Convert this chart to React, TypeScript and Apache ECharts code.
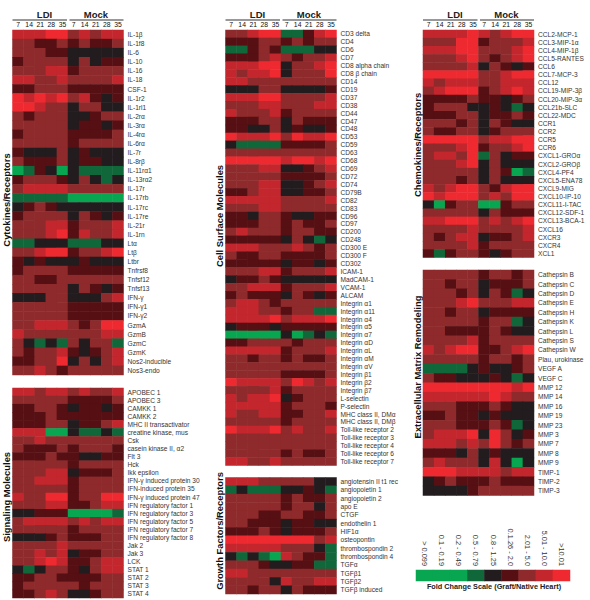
import React, { useEffect, useRef } from "react";
import * as echarts from "echarts";

const days = ["7", "14", "21", "28", "35", "7", "14", "21", "28", "35"];
// Level: index of the fold change bin in the legend, 0 (lowest) to 8 (highest)
const scaleLabels = ["> 0.099", "0.1 - 0.19", "0.2 - 0.49", "0.5 - 0.79", "0.8 - 1.25", "0.1.26 - 2.0", "2.01 - 5.0", "5.01 - 10.0", ">10.01"];
const scaleLevels = [0, 1, 2, 3, 4, 5, 6, 7, 8];
const scaleColors = ["#08a650", "#08a650", "#08a650", "#10683a", "#231c1f", "#560f13", "#8e2a2b", "#c3262d", "#ee2a30"];

const cytokineLabels = ["IL-1β", "IL-1f8", "IL-6", "IL-10", "IL-16", "IL-18", "CSF-1", "IL-1r2", "IL-1rl1", "IL-2rα", "IL-3rα", "IL-4rα", "IL-6rα", "IL-7r", "IL-8rβ", "IL-11rα1", "IL-13rα2", "IL-17r", "IL-17rb", "IL-17rc", "IL-17re", "IL-21r", "IL-1rn", "Ltα", "Ltβ", "Ltbr", "Tnfrsf8", "Tnfsf12", "Tnfsf13", "IFN-γ", "IFN-γ1", "IFN-γ2", "GzmA", "GzmB", "GzmC", "GzmK", "Nos2-inducible", "Nos3-endo"];
const cytokineValues = [
  [7,7,7,8,8,6,7,6,7,7],[6,6,5,5,6,5,6,5,5,6],[6,6,6,5,5,4,4,4,4,4],[5,6,6,6,6,4,6,4,5,5],[6,6,6,7,7,5,6,6,6,6],
  [7,7,6,6,7,6,6,6,6,7],[5,5,6,6,6,5,5,5,5,5],[8,7,8,7,8,6,7,5,4,5],[8,8,7,6,6,4,6,6,4,4],[6,5,6,6,6,4,4,5,6,6],
  [6,6,6,6,6,4,5,5,4,5],[5,6,6,6,6,5,5,5,5,6],[6,6,6,6,6,5,6,6,6,6],[5,4,4,4,6,4,5,4,4,4],[6,5,5,5,6,4,5,5,4,4],
  [0,3,5,4,0,4,3,3,3,3],[5,6,6,6,5,4,6,4,3,4],[6,7,7,7,7,6,6,6,6,6],[3,3,3,3,3,0,0,0,0,0],[4,5,6,5,4,4,4,4,4,4],
  [5,6,6,6,6,4,6,5,4,5],[6,6,6,7,7,5,6,6,6,7],[6,6,6,7,8,5,7,6,6,7],[3,3,4,4,4,3,3,3,4,4],[6,6,7,8,8,5,6,6,7,8],
  [5,4,5,4,4,4,5,4,4,4],[5,6,6,6,6,5,5,5,5,5],[6,6,5,5,6,6,6,6,6,6],[6,6,6,6,6,4,6,5,4,5],[4,4,4,6,6,4,4,4,6,7],
  [6,6,6,6,6,5,5,5,5,5],[6,6,6,6,6,5,5,5,5,5],[6,6,7,7,7,6,5,6,8,8],[7,6,6,6,6,6,6,6,7,7],[6,4,3,4,3,6,4,6,6,3],
  [6,5,6,6,7,5,4,5,6,7],[5,5,6,6,8,4,6,4,6,7],[6,6,7,6,5,6,6,6,6,6],
];

const signalingLabels = ["APOBEC 1", "APOBEC 3", "CAMKK 1", "CAMKK 2", "MHC II transactivator", "creatine kinase, mus", "Csk", "casein kinase II, α2", "Flt 3", "Hck", "Ikk epsilon", "IFN-γ induced protein 30", "IFN-induced protein 35", "IFN-γ induced protein 47", "IFN regulatory factor 1", "IFN regulatory factor 3", "IFN regulatory factor 5", "IFN regulatory factor 7", "IFN regulatory factor 8", "Jak 2", "Jak 3", "LCK", "STAT 1", "STAT 2", "STAT 3", "STAT 4"];
const signalingValues = [
  [7,7,6,7,7,6,7,6,6,7],[6,6,6,6,6,5,5,5,5,6],[5,5,6,6,5,4,5,5,4,5],[5,5,5,6,5,5,5,5,5,5],[5,5,5,6,6,4,5,5,6,7],
  [7,7,7,0,0,4,3,3,4,3],[6,6,7,6,6,6,6,6,6,6],[6,5,5,5,6,5,6,6,6,5],[5,5,5,6,5,5,4,4,5,5],[6,6,6,6,6,5,6,6,6,6],
  [6,6,6,7,7,4,5,5,5,6],[6,6,7,7,7,5,6,6,6,6],[6,6,6,6,6,5,6,6,6,6],[7,6,6,8,8,5,6,6,8,8],[6,6,6,7,7,5,5,6,7,7],
  [4,4,5,5,5,0,0,0,0,3],[6,7,7,7,7,6,7,6,7,7],[6,6,6,6,6,5,6,6,6,6],[4,4,4,5,6,5,5,5,6,6],[6,6,6,6,7,6,6,6,6,6],
  [6,6,7,6,7,4,5,5,6,6],[6,6,7,8,7,5,5,6,7,7],[4,3,4,6,6,5,4,6,7,7],[5,5,6,6,5,5,5,5,6,6],[5,6,6,6,6,6,5,6,6,6],
  [5,5,6,7,6,4,4,5,6,6],
];

const surfaceLabels = ["CD3 delta", "CD4", "CD6", "CD7", "CD8 alpha chain", "CD8 β chain", "CD14", "CD19", "CD37", "CD38", "CD44", "CD47", "CD48", "CD53", "CD59", "CD63", "CD68", "CD69", "CD72", "CD74", "CD79B", "CD82", "CD83", "CD96", "CD97", "CD200", "CD248", "CD300 E", "CD300 F", "CD302", "ICAM-1", "MadCAM-1", "VCAM-1", "ALCAM", "Integrin α1", "Integrin α11", "Integrin α4", "Integrin α5", "Integrin α7", "Integrin αD", "Integrin αL", "Integrin αM", "Integrin αV", "Integrin β1", "Integrin β2", "Integrin β7", "L-selectin", "P-selectin", "MHC class II, DMα", "MHC class II, DMβ", "Toll-like receptor 2", "Toll-like receptor 3", "Toll-like receptor 4", "Toll-like receptor 6", "Toll-like receptor 7"];
const surfaceValues = [
  [6,6,7,8,8,3,3,5,7,8],[5,5,5,6,6,5,6,5,6,6],[3,3,5,6,5,3,3,3,4,4],[5,5,5,6,7,6,5,6,6,7],[7,7,7,8,8,4,6,6,7,8],
  [7,6,7,7,8,4,6,6,6,8],[7,7,6,6,6,6,6,6,6,6],[4,4,4,6,6,4,4,4,4,5],[7,7,7,8,8,6,6,6,6,7],[6,6,6,7,7,6,6,6,7,7],
  [7,6,6,6,7,5,6,6,6,6],[5,5,5,6,6,4,6,5,5,5],[5,5,4,4,6,4,5,4,4,5],[8,7,7,7,8,6,8,7,7,8],[4,3,3,3,3,5,5,5,5,6],
  [6,6,6,6,6,6,6,6,6,6],[8,8,8,8,8,7,8,8,7,8],[6,6,6,7,7,4,4,5,6,7],[6,6,6,6,6,5,5,5,5,6],[6,6,6,7,7,4,4,5,6,7],
  [5,5,6,7,7,4,4,5,5,6],[7,7,7,7,7,6,6,6,6,7],[6,6,6,7,7,6,6,6,6,6],[5,5,4,6,6,5,4,4,5,5],[5,5,5,6,6,5,6,5,5,6],
  [6,7,6,6,6,5,6,6,5,5],[5,5,5,5,5,4,6,4,3,4],[7,7,7,6,6,6,7,6,5,6],[6,5,5,6,6,5,5,5,5,6],[5,5,5,5,5,4,5,5,4,5],
  [6,6,6,7,7,5,6,6,6,7],[4,5,5,6,5,4,4,4,4,4],[6,6,7,7,7,5,6,6,6,7],[5,6,5,5,5,4,6,5,4,5],[6,7,7,6,5,6,6,6,6,6],
  [7,7,7,6,6,5,6,6,3,3],[7,7,7,7,8,6,7,7,7,8],[4,5,5,5,4,5,5,5,5,5],[0,0,0,0,0,4,0,3,4,3],[5,5,6,6,6,6,5,6,6,6],
  [7,7,7,7,7,5,6,6,6,7],[6,6,5,6,6,5,6,5,5,6],[6,6,6,6,6,6,6,6,6,6],[6,6,6,6,6,5,5,5,5,6],[8,7,7,7,7,6,8,7,6,7],
  [6,6,6,6,7,5,6,6,6,6],[7,6,7,7,8,4,5,6,6,6],[7,7,7,7,7,5,6,6,6,5],[7,6,6,7,7,5,5,6,6,7],[6,6,6,6,6,5,6,6,6,6],
  [8,7,7,7,8,6,7,6,6,7],[6,6,6,6,6,6,6,6,6,6],[6,6,6,6,6,6,6,6,6,6],[6,6,6,6,6,5,6,5,5,6],[7,7,6,6,7,6,6,6,6,6],
];

const growthLabels = ["angiotensin II t1 rec", "angiopoietin 1", "angiopoietin 2", "apo E", "CTGF", "endothelin 1", "HIF1α", "osteopontin", "thrombospondin 2", "thrombospondin 4", "TGFα", "TGFβ1", "TGFβ2", "TGFβ induced"];
const growthValues = [
  [7,7,7,6,6,6,6,6,4,4],[3,4,3,3,3,4,4,5,4,3],[6,6,6,6,6,5,6,5,5,6],[6,6,6,6,6,5,6,6,4,6],[6,6,6,5,5,6,6,5,5,6],
  [6,6,5,5,5,4,5,5,4,4],[5,5,5,6,5,4,5,5,5,6],[8,8,8,8,8,8,8,8,6,7],[7,7,7,7,7,6,6,6,4,3],[4,3,4,3,0,7,6,5,5,3],
  [6,6,6,5,4,4,5,5,3,3],[7,7,6,6,6,6,6,6,6,6],[6,6,6,6,4,7,6,6,7,7],[6,6,5,6,6,4,6,5,5,5],
];

const chemokineLabels = ["CCL2-MCP-1", "CCL3-MIP-1α", "CCL4-MIP-1β", "CCL5-RANTES", "CCL6", "CCL7-MCP-3", "CCL12", "CCL19-MIP-3β", "CCL20-MIP-3α", "CCL21b-SLC", "CCL22-MDC", "CCR1", "CCR2", "CCR5", "CCR6", "CXCL1-GROα", "CXCL2-GROβ", "CXCL4-PF4", "CXCL5-ENA78", "CXCL9-MIG", "CXCL10-IP-10", "CXCL11-I-TAC", "CXCL12-SDF-1", "CXCL13-BCA-1", "CXCL16", "CXCR3", "CXCR4", "XCL1"];
const chemokineValues = [
  [7,7,7,7,8,7,6,7,8,8],[6,6,6,8,8,5,6,6,6,7],[7,7,7,8,8,6,6,6,7,8],[6,6,6,7,8,6,5,6,7,8],[6,6,6,6,7,4,6,5,4,5],
  [8,8,8,8,8,6,6,7,8,8],[7,6,7,7,7,6,6,7,7,7],[6,7,8,8,8,5,6,7,8,7],[5,5,5,5,6,5,5,4,5,6],[5,6,6,6,4,4,5,4,3,4],
  [5,5,5,6,6,4,5,5,6,5],[6,6,6,5,6,4,6,5,4,4],[6,5,5,6,6,4,5,6,6,6],[8,8,8,8,8,6,7,7,8,8],[6,6,6,7,8,5,6,6,7,8],
  [6,7,7,6,8,3,6,4,5,5],[6,6,6,7,8,4,6,4,4,4],[6,6,6,6,6,4,6,5,0,3],[6,6,6,5,6,4,6,4,4,4],[7,6,7,8,8,6,5,7,8,8],
  [8,7,8,8,8,6,7,6,8,8],[4,0,5,6,6,0,0,5,6,6],[6,6,6,6,6,4,6,5,5,5],[7,7,8,8,8,6,7,6,7,8],[6,6,6,6,7,6,6,6,6,7],
  [6,5,6,7,7,4,5,5,6,7],[6,6,6,6,7,5,6,6,6,6],[5,3,5,6,6,5,4,5,6,6],
];

const matrixLabels = ["Cathepsin B", "Cathepsin C", "Cathepsin D", "Cathepsin E", "Cathepsin H", "Cathepsin K", "Cathepsin L", "Cathepsin S", "Cathepsin W", "Plau, urokinase", "VEGF A", "VEGF C", "MMP 12", "MMP 14", "MMP 16", "MMP 19", "MMP 23", "MMP 3", "MMP 7", "MMP 8", "MMP 9", "TIMP-1", "TIMP-2", "TIMP-3"];
const matrixValues = [
  [6,6,6,6,6,5,6,6,5,6],[6,6,5,6,6,4,5,5,5,6],[6,6,6,5,6,4,6,5,3,4],[6,6,6,7,8,6,6,6,7,7],[6,6,5,6,6,4,5,5,5,5],
  [6,6,6,6,6,5,6,6,3,4],[6,6,5,5,5,5,6,5,4,4],[6,6,6,6,7,5,6,6,6,6],[7,6,7,8,8,5,5,6,7,8],[6,6,6,6,6,5,6,6,5,6],
  [3,3,3,3,4,5,4,4,5,6],[6,5,5,4,4,4,5,4,3,4],[8,8,8,8,8,8,8,8,7,8],[7,7,7,7,7,7,8,7,6,6],[6,6,6,5,5,5,6,5,4,4],
  [5,5,6,5,5,4,5,4,4,4],[6,6,6,5,5,5,6,5,3,4],[6,7,7,7,8,4,8,6,4,5],[7,7,7,6,7,6,8,6,5,6],[5,5,5,4,6,4,5,4,4,4],
  [6,7,6,6,6,4,7,4,0,4],[8,8,8,7,7,7,7,6,7,7],[4,5,6,5,5,5,6,5,5,5],[4,4,4,4,5,6,6,6,6,6],
];

const FONT = '"Liberation Sans", Arial, sans-serif';

type Panel = { labels: string[]; values: number[][]; left: number; top: number; height: number; title: string; titleX: number; titleY: number; header: boolean };

const COL_W = 111;
const panels: Panel[] = [
  { labels: cytokineLabels, values: cytokineValues, left: 12.5, top: 30, height: 345, title: "Cytokines/Receptors", titleX: 6, titleY: 200, header: true },
  { labels: signalingLabels, values: signalingValues, left: 12.5, top: 388, height: 210, title: "Signaling Molecules", titleX: 6, titleY: 497, header: false },
  { labels: surfaceLabels, values: surfaceValues, left: 225.5, top: 30, height: 435.5, title: "Cell Surface Molecules", titleX: 219, titleY: 216, header: true },
  { labels: growthLabels, values: growthValues, left: 225.5, top: 477.5, height: 116.5, title: "Growth Factors/Receptors", titleX: 219, titleY: 531, header: false },
  { labels: chemokineLabels, values: chemokineValues, left: 423, top: 30, height: 227.5, title: "Chemokines/Receptors", titleX: 417, titleY: 145, header: true },
  { labels: matrixLabels, values: matrixValues, left: 423, top: 270, height: 225.5, title: "Extracellular Matrix Remodeling", titleX: 417, titleY: 367, header: false },
];

function buildOption() {
  const grid: any[] = [];
  const xAxis: any[] = [];
  const yAxis: any[] = [];
  const series: any[] = [];
  const graphic: any[] = [];

  panels.forEach((p, i) => {
    grid.push({ left: p.left, top: p.top, width: COL_W, height: p.height, containLabel: false });
    xAxis.push({
      gridIndex: i, type: "category", position: "top", data: days,
      axisLine: { show: false }, axisTick: { show: false }, splitLine: { show: false },
      axisLabel: { show: p.header, interval: 0, fontFamily: FONT, fontSize: 6.8, color: "#111", margin: 2 },
    });
    yAxis.push({
      gridIndex: i, type: "category", position: "right", inverse: true, data: p.labels,
      axisLine: { show: false }, axisTick: { show: false }, splitLine: { show: false },
      axisLabel: { interval: 0, fontFamily: FONT, fontSize: 6.6, color: "#333", margin: 4 },
    });
    series.push({
      type: "heatmap", xAxisIndex: i, yAxisIndex: i,
      data: p.values.flatMap((row, r) => row.map((v, c) => [c, r, v])),
      itemStyle: { borderWidth: 0 }, emphasis: { disabled: true },
    });
    graphic.push({
      type: "text", x: p.titleX, y: p.titleY, rotation: Math.PI / 2,
      style: { text: p.title, align: "center", verticalAlign: "middle", font: `bold 9.4px ${FONT}`, fill: "#111" },
    });
    if (p.header) {
      const mid = p.left + COL_W / 2;
      [["LDI", p.left + 32], ["Mock", p.left + 83.5]].forEach(([t, x]) => {
        graphic.push({
          type: "text", x: x as number, y: 14,
          style: { text: t as string, align: "center", verticalAlign: "middle", font: `bold 9.5px ${FONT}`, fill: "#222" },
        });
      });
      graphic.push({ type: "line", shape: { x1: p.left, y1: 20, x2: mid - 1, y2: 20 }, style: { stroke: "#333", lineWidth: 1 } });
      graphic.push({ type: "line", shape: { x1: mid + 1.5, y1: 20, x2: p.left + COL_W, y2: 20 }, style: { stroke: "#333", lineWidth: 1 } });
    }
  });

  const li = panels.length;
  grid.push({ left: 416, top: 570, width: 154, height: 11 });
  xAxis.push({
    gridIndex: li, type: "category", position: "top", data: scaleLabels,
    axisLine: { show: false }, axisTick: { show: false }, splitLine: { show: false },
    axisLabel: { interval: 0, rotate: 90, fontFamily: FONT, fontSize: 7.4, color: "#333", margin: 4 },
  });
  yAxis.push({ gridIndex: li, type: "category", data: ["scale"], show: false });
  series.push({
    type: "heatmap", xAxisIndex: li, yAxisIndex: li,
    data: scaleLevels.map((v, c) => [c, 0, v]),
    itemStyle: { borderWidth: 0 }, emphasis: { disabled: true },
  });
  graphic.push({
    type: "text", x: 494, y: 586,
    style: { text: "Fold Change Scale (Graft/Native Heart)", align: "center", verticalAlign: "middle", font: `bold 7.3px ${FONT}`, fill: "#222" },
  });

  return {
    animation: false,
    backgroundColor: "#fff",
    tooltip: { show: false },
    grid, xAxis, yAxis, series, graphic,
    visualMap: {
      type: "piecewise", show: false, dimension: 2,
      pieces: scaleLevels.map((v) => ({ value: v, color: scaleColors[v] })),
    },
  };
}

export default function App() {
  const ref = useRef<HTMLDivElement>(null);
  useEffect(() => {
    const chart = echarts.init(ref.current!, undefined, { renderer: "svg" });
    chart.setOption(buildOption() as any);
    return () => chart.dispose();
  }, []);
  return (
    <div style={{ position: "fixed", left: 0, top: 0, width: 590, height: 600, overflow: "hidden" }}>
      <div ref={ref} style={{ width: 590, height: 600 }} />
    </div>
  );
}
